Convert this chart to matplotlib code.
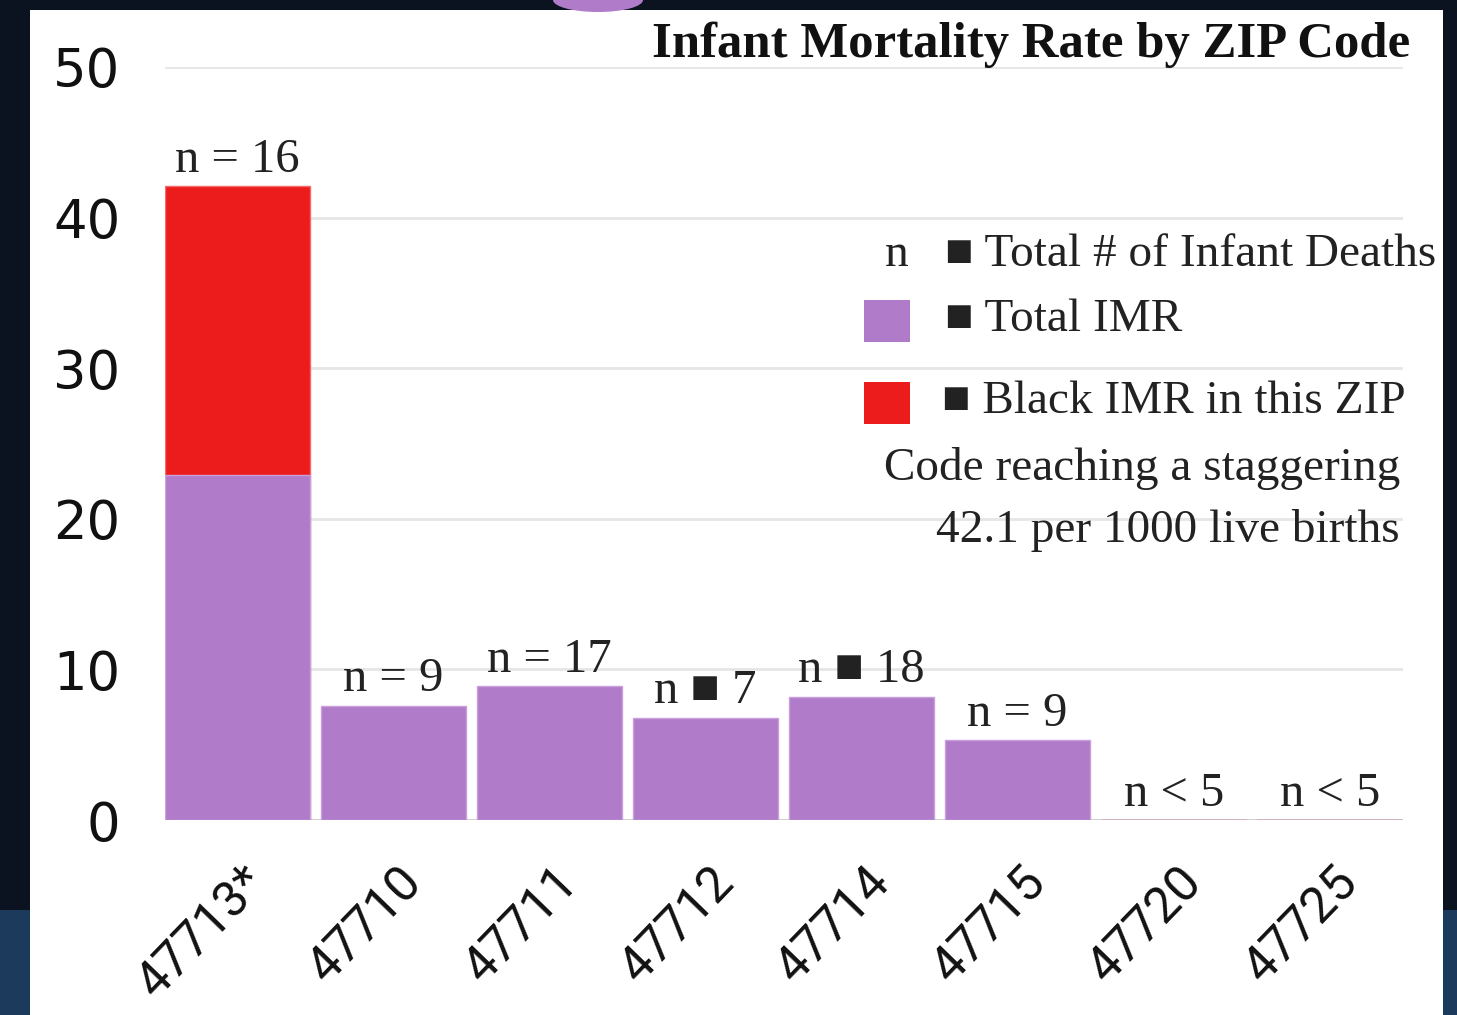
import matplotlib
matplotlib.use("Agg")
import matplotlib.pyplot as plt
import matplotlib.transforms as mtransforms
from matplotlib.patches import Rectangle, Ellipse

zips = ["47713*", "47710", "47711", "47712", "47714", "47715", "47720", "47725"]
total_imr = [22.9, 7.6, 8.9, 6.8, 8.2, 5.3, 0, 0]
black_imr = [42.1, 0, 0, 0, 0, 0, 0, 0]
n_labels = ["n = 16", "n = 9", "n = 17", "n \u25a0 7", "n \u25a0 18", "n = 9", "n < 5", "n < 5"]
yticks = [0, 10, 20, 30, 40, 50]

W, H = 1457, 1015
fig = plt.figure(figsize=(W / 100, H / 100), dpi=100)
fig.patch.set_facecolor("#0b1321")

def fx(px):
    return px / W

def fy(py):
    return 1 - py / H

# background bands and white panel
fig.patches.append(Rectangle((0, 0), 1, fy(910), transform=fig.transFigure,
                             facecolor="#1c3a5c", edgecolor="none", zorder=0))
fig.patches.append(Rectangle((fx(30), 0), fx(1443) - fx(30), fy(10), transform=fig.transFigure,
                             facecolor="white", edgecolor="none", zorder=1))
fig.patches.append(Ellipse((fx(598), fy(0)), fx(90), 24 / H, transform=fig.transFigure,
                           facecolor="#b07cc9", edgecolor="none", zorder=1))

ax = fig.add_axes([fx(165), fy(820), fx(1403) - fx(165), fy(67) - fy(820)])
ax.set_facecolor("none")
ax.set_zorder(3)

x = list(range(len(zips)))
width = 0.93
ax.bar(x, black_imr, width=width, color="#ec1c1c", edgecolor="#f46a6a", linewidth=1, zorder=2)
ax.bar(x, total_imr, width=width, color="#b07cc9", edgecolor="#c9a0dc", linewidth=1, zorder=3)

ax.set_ylim(0, 50)
ax.set_xlim(-width / 2, 7.47)
ax.set_yticks(yticks)
ax.set_yticklabels([str(v) for v in yticks], fontfamily="DejaVu Sans", fontsize=38, color="#111111")
ax.tick_params(axis="y", length=0, pad=32)

ax.set_xticks(x)
ax.set_xticklabels(zips, rotation=46, ha="right", va="top", rotation_mode="anchor",
                   fontfamily="Roboto", fontsize=36, color="#111111")
ax.tick_params(axis="x", length=0, pad=27)
offset = mtransforms.ScaledTranslation(3 / 100, 0, fig.dpi_scale_trans)
for lab in ax.get_xticklabels():
    lab.set_transform(lab.get_transform() + offset)

for s in ax.spines.values():
    s.set_visible(False)
ax.grid(axis="y", color="#e6e6e6", linewidth=2, zorder=0)
ax.set_axisbelow(True)
ax.axhline(0, color="#cccccc", linewidth=2, zorder=1)

for i, lab in enumerate(n_labels):
    top = max(total_imr[i], black_imr[i])
    ax.annotate(lab, (i, top), xytext=(0, 3), textcoords="offset points",
                ha="center", va="bottom", fontfamily="Liberation Serif", fontsize=35,
                color="#222222", zorder=5)

serif = "Liberation Serif"
fig.text(fx(1410), fy(45), "Infant Mortality Rate by ZIP Code", ha="right", va="center",
         fontfamily=serif, fontweight="bold", fontsize=36.5, color="#111111", zorder=5)

fs = 34
fig.text(fx(897), fy(255), "n", ha="center", va="center", fontfamily=serif, fontsize=fs, color="#222222")
fig.text(fx(945), fy(255), "\u25a0 Total # of Infant Deaths", ha="left", va="center",
         fontfamily=serif, fontsize=fs, color="#222222")
fig.patches.append(Rectangle((fx(864), fy(342)), fx(910) - fx(864), fy(300) - fy(342),
                             transform=fig.transFigure, facecolor="#b07cc9", edgecolor="none", zorder=4))
fig.text(fx(945), fy(320), "\u25a0 Total IMR", ha="left", va="center",
         fontfamily=serif, fontsize=fs, color="#222222")
fig.patches.append(Rectangle((fx(864), fy(424)), fx(910) - fx(864), fy(382) - fy(424),
                             transform=fig.transFigure, facecolor="#ec1c1c", edgecolor="none", zorder=4))
fig.text(fx(942), fy(402), "\u25a0 Black IMR in this ZIP", ha="left", va="center",
         fontfamily=serif, fontsize=fs, color="#222222")
fig.text(fx(1400), fy(468), "Code reaching a staggering", ha="right", va="center",
         fontfamily=serif, fontsize=fs, color="#222222")
fig.text(fx(1400), fy(530), "42.1 per 1000 live births", ha="right", va="center",
         fontfamily=serif, fontsize=fs, color="#222222")

fig.savefig("out.png", dpi=100, facecolor=fig.get_facecolor())
